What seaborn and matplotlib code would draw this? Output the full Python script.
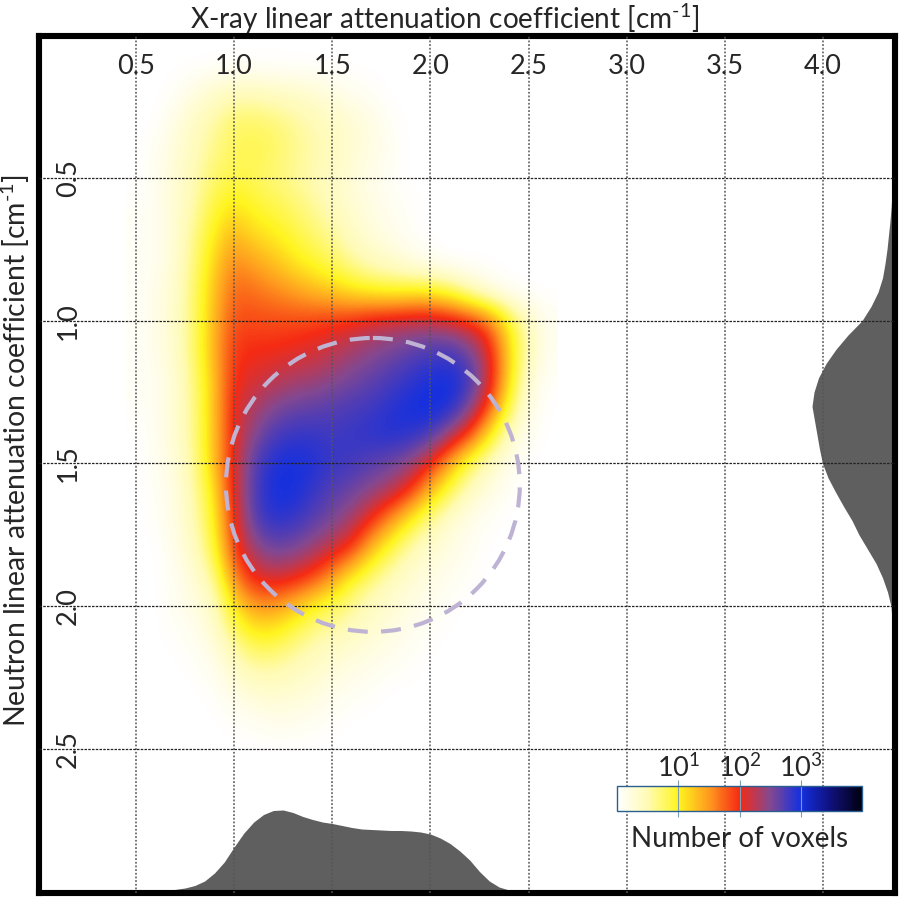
import numpy as np
import matplotlib
matplotlib.use("Agg")
import matplotlib.pyplot as plt
from matplotlib.patches import Ellipse
import seaborn as sns

# log10(number of voxels); rows = neutron coefficient, columns = X-ray coefficient
xray_values = [0.5, 0.6, 0.7, 0.8, 0.9, 1.0, 1.1, 1.2, 1.3, 1.4, 1.5, 1.6, 1.7, 1.8, 1.9, 2.0, 2.1, 2.2, 2.3, 2.4, 2.5, 2.6]
neutron_values = [0.1, 0.2, 0.3, 0.4, 0.5, 0.6, 0.7, 0.8, 0.9, 1.0, 1.1, 1.2, 1.3, 1.4, 1.5, 1.6, 1.7, 1.8, 1.9, 2.0, 2.1, 2.2, 2.3, 2.4, 2.5]
log_voxels = [
    [0],
    [0, 0, .05, .2, .35, .45, .45, .4, .35, .3, .2, .1, .05],
    [0, 0, .2, .4, .55, .75, .75, .7, .6, .5, .4, .3, .2, .05],
    [0, .1, .25, .45, .65, .8, .85, .8, .65, .55, .45, .3, .2, .1],
    [0, .1, .3, .5, .75, .85, .8, .7, .6, .5, .4, .25, .15, .05],
    [.05, .1, .3, .55, .9, 1.1, .95, .85, .75, .6, .45, .3, .2, .1, .05],
    [.05, .1, .3, .65, 1.05, 1.35, 1.15, 1.05, .9, .75, .6, .4, .25, .15, .05],
    [.05, .1, .3, .7, 1.2, 1.6, 1.45, 1.3, 1.1, .95, .8, .6, .45, .35, .2, .1],
    [.05, .15, .35, .75, 1.3, 1.75, 1.7, 1.6, 1.5, 1.35, 1.25, 1.1, 1.0, .95, 1.0, 1.0, .85, .5, .2, .05],
    [.05, .15, .35, .75, 1.35, 1.85, 1.85, 1.85, 1.85, 1.9, 1.95, 2.0, 2.15, 2.2, 2.25, 2.25, 2.15, 2.0, 1.7, 1.0, .4, .1],
    [.05, .15, .35, .75, 1.4, 1.95, 2.0, 2.0, 2.05, 2.1, 2.2, 2.35, 2.45, 2.55, 2.65, 2.75, 2.75, 2.55, 2.1, 1.2, .5, .1],
    [.05, .1, .3, .7, 1.3, 2.0, 2.1, 2.2, 2.3, 2.35, 2.45, 2.55, 2.65, 2.75, 2.85, 2.95, 3.0, 2.85, 2.2, 1.2, .3, .05],
    [.05, .1, .3, .65, 1.3, 2.1, 2.3, 2.5, 2.6, 2.65, 2.7, 2.75, 2.8, 2.9, 3.0, 3.05, 3.0, 2.6, 1.9, .9, .2, 0],
    [0, .1, .3, .65, 1.3, 2.05, 2.5, 2.75, 2.85, 2.85, 2.8, 2.85, 2.9, 2.95, 2.9, 2.8, 2.4, 1.9, 1.1, .4, .1, 0],
    [0, .1, .25, .6, 1.3, 2.1, 2.7, 2.95, 3.0, 2.95, 2.85, 2.8, 2.7, 2.6, 2.45, 2.05, 1.4, .8, .4, .15, 0, 0],
    [0, .05, .2, .55, 1.1, 2.1, 2.75, 3.0, 3.0, 2.85, 2.7, 2.6, 2.45, 2.3, 1.95, 1.3, .8, .4, .2, .05, 0, 0],
    [0, .05, .2, .5, 1.0, 2.0, 2.7, 2.9, 2.85, 2.7, 2.55, 2.35, 2.0, 1.5, 1.0, .6, .3, .15, .05],
    [0, 0, .15, .4, .9, 1.9, 2.4, 2.6, 2.55, 2.4, 2.2, 1.95, 1.3, .85, .5, .3, .2, .1],
    [0, 0, .1, .3, .6, 1.6, 2.05, 2.2, 2.1, 1.9, 1.5, 1.0, .7, .45, .3, .2, .1, .05],
    [0, 0, .1, .2, .4, 1.1, 1.5, 1.5, 1.3, 1.0, .8, .6, .4, .3, .2, .1, .05],
    [0, 0, .05, .1, .3, .7, 1.0, 1.0, .8, .6, .5, .4, .3, .2, .1, .05],
    [0, 0, 0, .05, .15, .4, .6, .6, .5, .4, .3, .2, .15, .1, .05],
    [0, 0, 0, 0, .05, .2, .3, .35, .3, .25, .15, .1, .05],
    [0, 0, 0, 0, 0, .05, .1, .15, .15, .1, .05],
    [0],
]

# marginal histograms (relative height)
xray_hist_x = [.65, .70, .75, .80, .85, .90, .95, 1.0, 1.05, 1.10, 1.15, 1.2, 1.25, 1.3, 1.35, 1.4, 1.45, 1.5, 1.55,
               1.6, 1.65, 1.7, 1.75, 1.8, 1.85, 1.9, 1.95, 2.0, 2.05, 2.1, 2.15, 2.2, 2.25, 2.3, 2.35, 2.4]
xray_hist_h = [0, .6, 2, 4.5, 9, 17, 28, 43, 57, 68, 75.5, 79.5, 80, 77.5, 73.5, 70.5, 68, 66.5, 64.5,
               62.5, 61, 60.5, 60, 59.5, 59.5, 59, 58, 56, 52, 46.5, 39, 30, 18.5, 9, 3, 0]
neutron_hist_y = [.55, .6, .65, .7, .75, .8, .85, .9, .95, 1.0, 1.05, 1.1, 1.15, 1.2, 1.25, 1.3, 1.35, 1.4, 1.45,
                  1.5, 1.55, 1.6, 1.65, 1.7, 1.75, 1.8, 1.85, 1.9, 1.95, 2.0, 2.05]
neutron_hist_w = [0, .8, 2, 3.5, 5, 7, 9.5, 14, 21, 30, 44, 56, 66, 73.5, 78, 80, 77.5, 75, 72.5,
                  69.5, 64, 56.5, 48.5, 40, 33, 24.5, 16, 9.5, 4.5, 1, 0]

grid_ticks_x = [0.5, 1.0, 1.5, 2.0, 2.5, 3.0, 3.5, 4.0]
grid_ticks_y = [0.5, 1.0, 1.5, 2.0, 2.5]
bar_ticks = [1, 2, 3]
bar_labels = ["$10^{1}$", "$10^{2}$", "$10^{3}$"]

sns.set_theme(style="white")
plt.rcParams["font.family"] = ["Lato", "DejaVu Sans"]
plt.rcParams["mathtext.default"] = "regular"
plt.rcParams["mathtext.fontset"] = "custom"
plt.rcParams["mathtext.rm"] = "Lato"
plt.rcParams["text.color"] = "#111111"

W, H = 901, 899
fig = plt.figure(figsize=(W / 100, H / 100), dpi=100, facecolor="white")
L, R, T, B = 38.5, 895.0, 36.0, 892.5
ax = fig.add_axes([L / W, 1 - B / H, (R - L) / W, (B - T) / H])

cmap = sns.blend_palette(["#ffffff", "#fffbb4", "#fff51e", "#ff9a1e", "#f52a14",
                          "#84488f", "#1430e0", "#10107a", "#000010"], n_colors=256, as_cmap=True)

grid = np.array([r + [0] * (len(xray_values) - len(r)) for r in log_voxels], dtype=float)
dx, dy = 0.05, 0.05
im = ax.imshow(grid, cmap=cmap, vmin=0, vmax=4, aspect="auto", interpolation="bicubic",
               extent=[xray_values[0] - dx, xray_values[-1] + dx, neutron_values[-1] + dy, neutron_values[0] - dy],
               zorder=0)
ax.set_xlim(0.0036, 4.367)
ax.set_ylim(3.0025, 0.003)

ax.set_axisbelow(False)
ax.set_xticks(grid_ticks_x, [f"{t:.1f}" for t in grid_ticks_x])
ax.set_yticks(grid_ticks_y, [f"{t:.1f}" for t in grid_ticks_y])
ax.xaxis.set_ticks_position("top")
ax.tick_params(axis="x", length=0, pad=-31, labelsize=19.5, labeltop=True, labelbottom=False)
ax.tick_params(axis="y", length=0, pad=-30.5, labelsize=19.5, labelrotation=90)
for lab in ax.get_yticklabels():
    lab.set_va("center")
ax.grid(True, axis="x", color="#555555", lw=1.1, ls=(0, (1.2, 1.2)))
ax.grid(True, axis="y", color="#222222", lw=0.9, ls=(0, (2, 1)))
for s in ax.spines.values():
    s.set_linewidth(4.4)
    s.set_color("black")

# marginal histograms
axb = ax.inset_axes([0, 2.5 / (B - T), 1, 100 / (B - T)], zorder=1)
sns.histplot(x=xray_hist_x, weights=xray_hist_h, bins=len(xray_hist_x),
             binrange=(xray_hist_x[0] - 0.025, xray_hist_x[-1] + 0.025), element="poly",
             color="#5f5f5f", alpha=1, lw=0, ax=axb)
axb.set_xlim(ax.get_xlim())
axb.set_ylim(0, 100)
axb.set(xticks=[], yticks=[], xlabel="", ylabel="")
axb.axis("off")

axr = ax.inset_axes([1 - 103 / (R - L), 0, 100 / (R - L), 1], zorder=1)
sns.histplot(y=neutron_hist_y, weights=neutron_hist_w, bins=len(neutron_hist_y),
             binrange=(neutron_hist_y[0] - 0.025, neutron_hist_y[-1] + 0.025), element="poly",
             color="#5f5f5f", alpha=1, lw=0, ax=axr)
axr.set_xlim(100, 0)
axr.set_ylim(ax.get_ylim())
axr.set(xticks=[], yticks=[], xlabel="", ylabel="")
axr.axis("off")

# dashed circle
ax.add_patch(Ellipse((1.707, 1.575), 1.497, 1.029, fill=False, ec="#bfb3d3", lw=3.0,
                     ls=(0, (4.8, 3.2)), zorder=3))

ax.xaxis.set_label_position("top")
ax.set_xlabel(r"X-ray linear attenuation coefficient [cm$^{\text{-1}}$]", fontsize=20.2)
ax.xaxis.set_label_coords((445 - L) / (R - L), 1 + 7 / (B - T), transform=ax.transAxes)
ax.set_ylabel(r"Neutron linear attenuation coefficient [cm$^{\text{-1}}$]", fontsize=20.4)
ax.yaxis.set_label_coords(-0.0075, (B - 450) / (B - T))

# colour bar
cax = fig.add_axes([617 / W, 1 - 810.7 / H, 245 / W, 24.7 / H], zorder=5)
cb = fig.colorbar(im, cax=cax, orientation="horizontal", ticks=bar_ticks)
cb.set_ticklabels(bar_labels)
cb.outline.set_edgecolor("#2a6090")
cb.outline.set_linewidth(1.0)
cax.xaxis.set_ticks_position("top")
cax.tick_params(axis="x", length=0, pad=3, labelsize=19.5)
cax.xaxis.set_label_position("bottom")
cax.set_xlabel("Number of voxels", fontsize=20, labelpad=11)
cax.vlines(bar_ticks, -0.25, 1.25, transform=cax.get_xaxis_transform(), clip_on=False,
           color="#7f9fb5", lw=0.8)

fig.savefig("out.png", dpi=100, facecolor="white")
